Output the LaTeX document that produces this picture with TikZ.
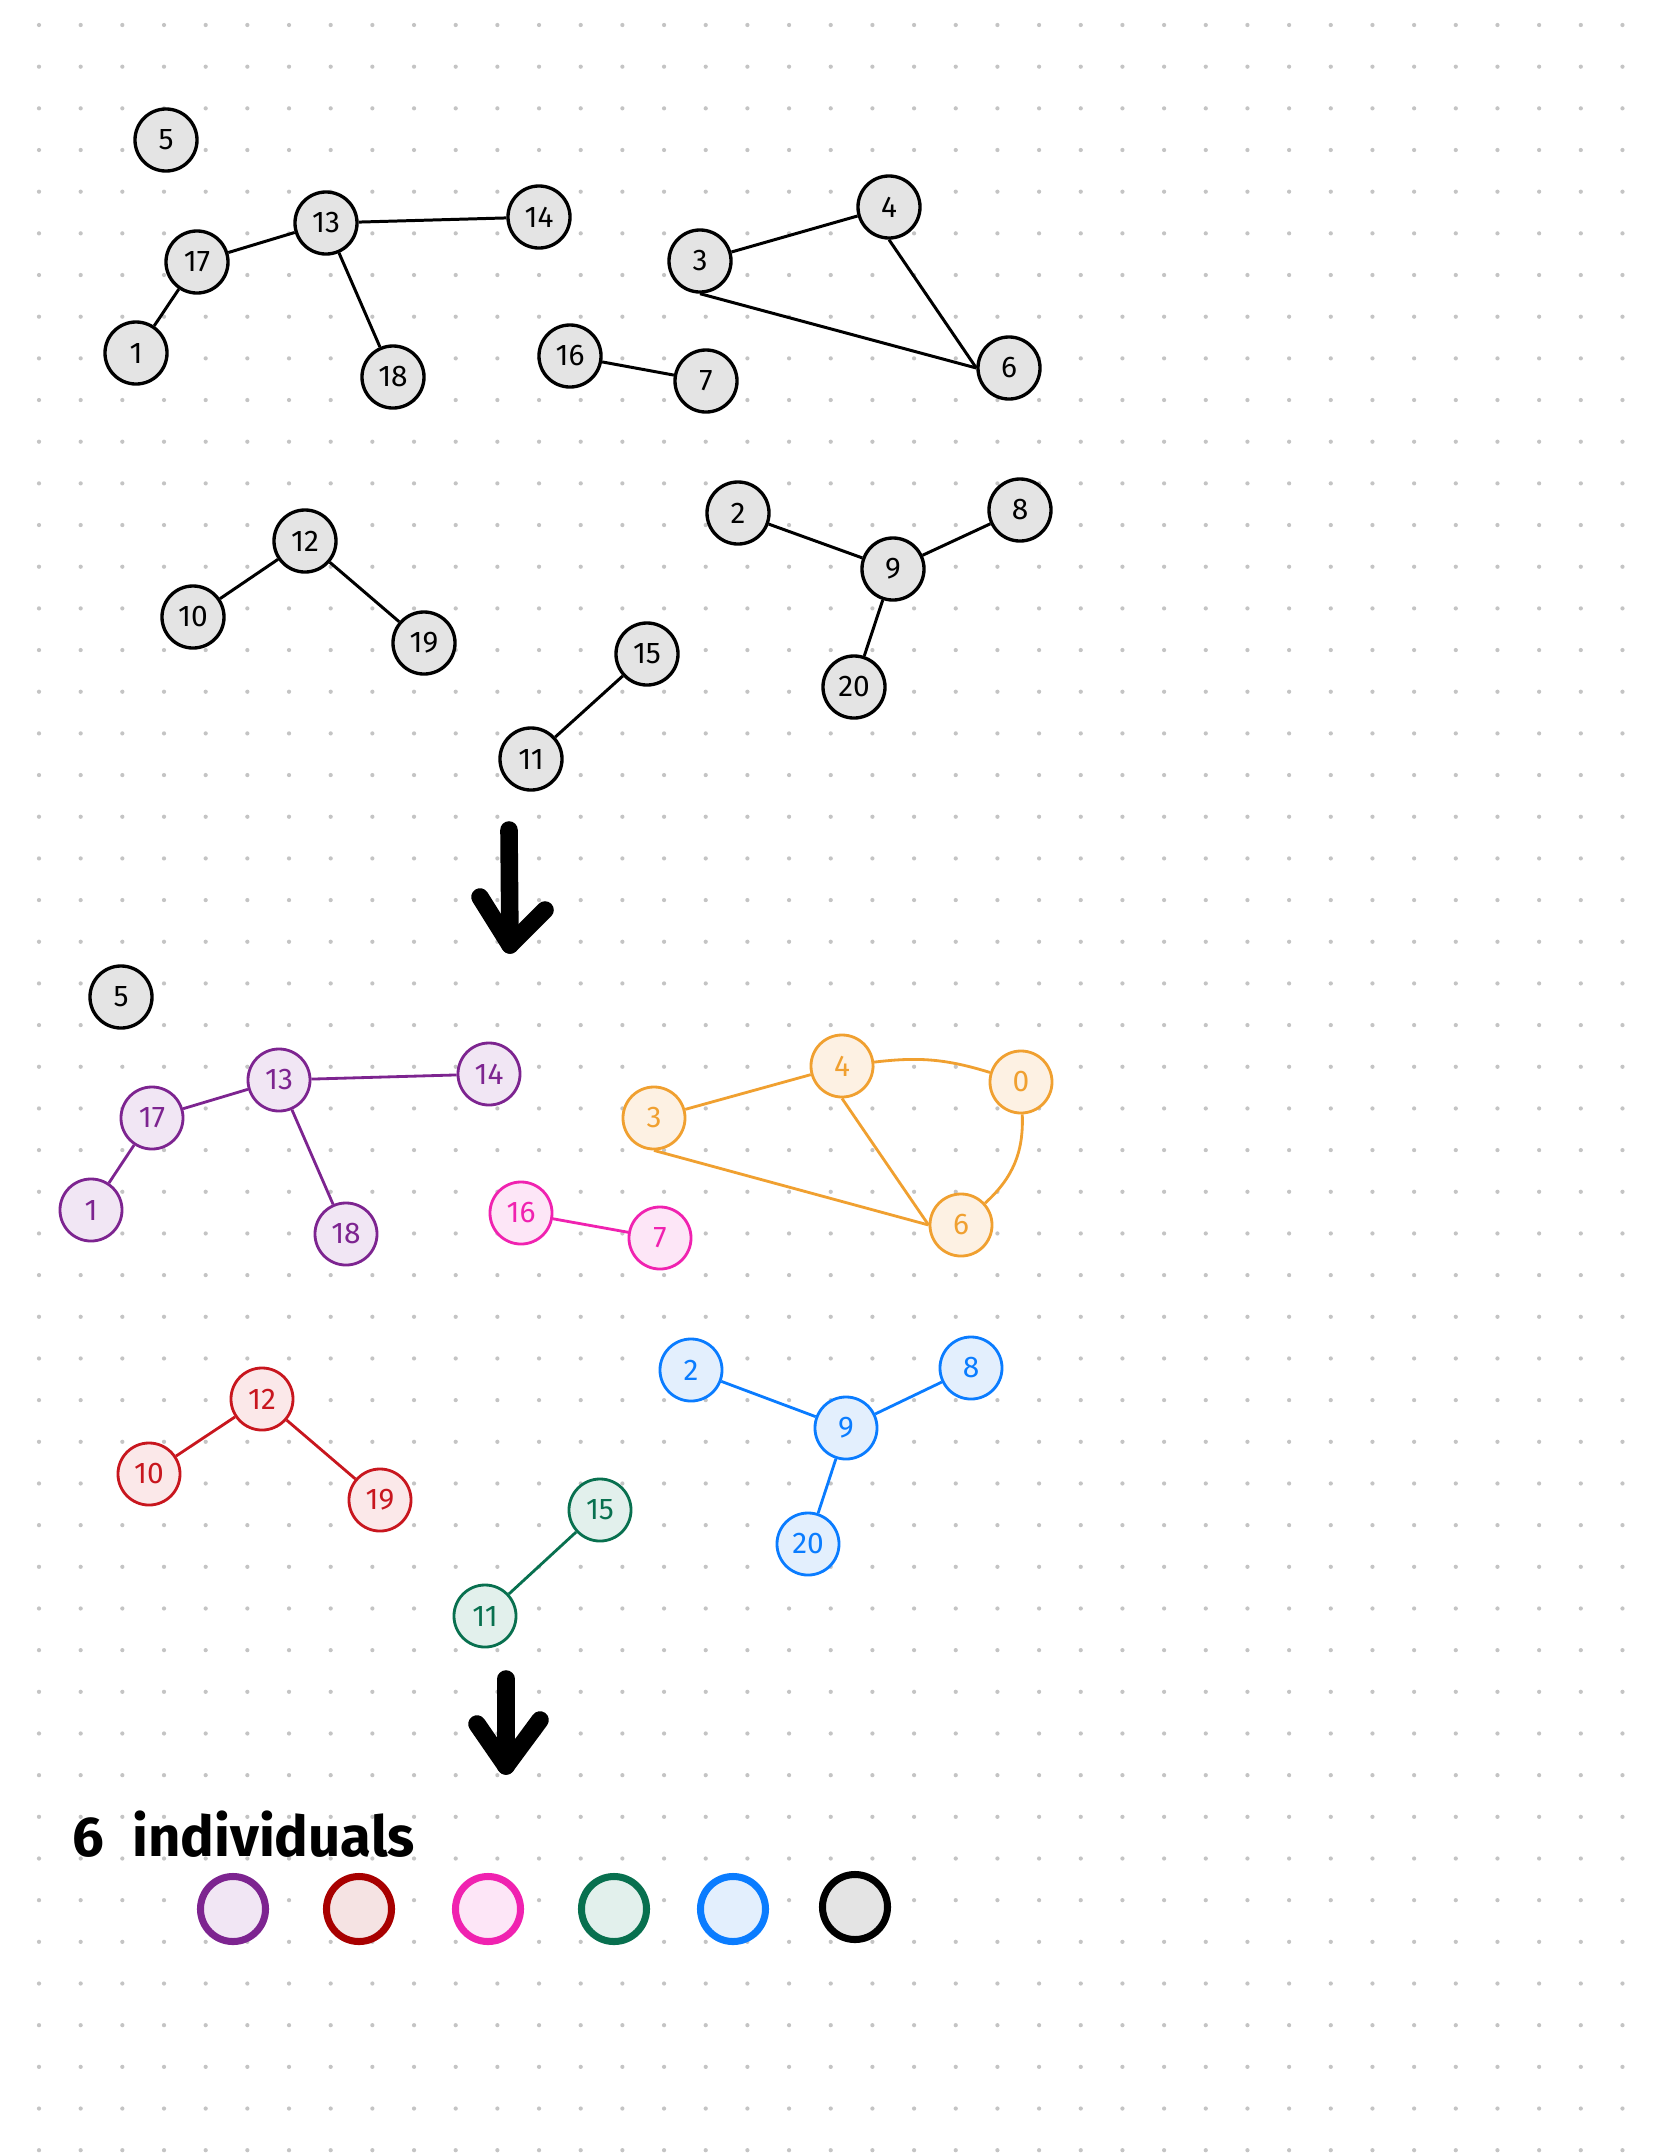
\documentclass[tikz,border=0pt]{standalone}
\usepackage{fontspec}
\setmainfont{Fira Sans}
\usetikzlibrary{arrows.meta,positioning}

\definecolor{dotgray}{HTML}{C4C4C4}
\definecolor{nodegray}{HTML}{E4E4E4}
\definecolor{purpline}{HTML}{7D2490}
\definecolor{purpfill}{HTML}{F1E6F4}
\definecolor{redline}{HTML}{C8161E}
\definecolor{redfill}{HTML}{FBE8E9}
\definecolor{darkred}{HTML}{A80000}
\definecolor{darkredfill}{HTML}{F5E3E3}
\definecolor{pinkline}{HTML}{F022B0}
\definecolor{pinkfill}{HTML}{FDE6F7}
\definecolor{greenline}{HTML}{08704F}
\definecolor{greenfill}{HTML}{E2F0EC}
\definecolor{blueline}{HTML}{0A7CFF}
\definecolor{bluefill}{HTML}{E3EFFD}
\definecolor{orangeline}{HTML}{F0A030}
\definecolor{orangefill}{HTML}{FDF1E3}

\begin{document}
\begin{tikzpicture}[
      x=0.01cm, y=-0.01cm,
      vtx/.style={
          circle, draw, inner sep=0pt,
          minimum size=0.62cm,
          font=\fontsize{8.5}{9}\selectfont
        },
      blk/.style={vtx, fill=nodegray, line width=0.95pt},
      link/.style={line width=0.85pt},
      clink/.style={line width=0.8pt},
      purp/.style={vtx, draw=purpline, fill=purpfill, text=purpline, line width=0.8pt},
      redn/.style={vtx, draw=redline, fill=redfill, text=redline, line width=0.8pt},
      pinkn/.style={vtx, draw=pinkline, fill=pinkfill, text=pinkline, line width=0.8pt},
      grn/.style={vtx, draw=greenline, fill=greenfill, text=greenline, line width=0.8pt},
      blu/.style={vtx, draw=blueline, fill=bluefill, text=blueline, line width=0.8pt},
      orng/.style={vtx, draw=orangeline, fill=orangefill, text=orangeline, line width=0.8pt},
      swatch/.style={circle, draw, line width=2pt, minimum size=0.65cm, inner sep=0pt},
      bigarrow/.style={line width=5pt, line cap=round, line join=round},
    ]
    \useasboundingbox (0,0) rectangle (1668,2154);
    \fill[white] (0,0) rectangle (1668,2154);
    % dotted paper
    \foreach \i in {0,...,38}
      \foreach \j in {0,...,51}
        \fill[dotgray] (39+41.67*\i, 25+41.67*\j) circle (0.6pt);

    % before
    \node[blk] (t5)  at (166,140) {5};
    \node[blk] (t13) at (326,223) {13};
    \node[blk] (t14) at (539,217) {14};
    \node[blk] (t17) at (197,262) {17};
    \node[blk] (t1)  at (136,353) {1};
    \node[blk] (t18) at (393,377) {18};
    \node[blk] (t3)  at (700,261) {3};
    \node[blk] (t4)  at (889,207) {4};
    \node[blk] (t6)  at (1009,368) {6};
    \node[blk] (t16) at (570,356) {16};
    \node[blk] (t7)  at (706,381) {7};
    \node[blk] (t12) at (305,541) {12};
    \node[blk] (t10) at (193,617) {10};
    \node[blk] (t19) at (424,643) {19};
    \node[blk] (t15) at (647,654) {15};
    \node[blk] (t11) at (531,759) {11};
    \node[blk] (t2)  at (738,513) {2};
    \node[blk] (t9)  at (893,569) {9};
    \node[blk] (t8)  at (1020,510) {8};
    \node[blk] (t20) at (854,687) {20};

    \draw[link] (t17) -- (t13);
    \draw[link] (t13) -- (t14);
    \draw[link] (t13) -- (t18);
    \draw[link] (t17) -- (t1);
    \draw[link] (t3) -- (t4);
    \draw[link] (t4.south) -- (t6.west);
    \draw[link] (t3.south) -- (t6.west);
    \draw[link] (t16) -- (t7);
    \draw[link] (t12) -- (t10);
    \draw[link] (t12) -- (t19);
    \draw[link] (t15) -- (t11);
    \draw[link] (t2) -- (t9);
    \draw[link] (t9) -- (t8);
    \draw[link] (t9) -- (t20);

    \coordinate (a1top) at (509,830);
    \coordinate (a1tip) at (510,945);
    \coordinate (a1l) at (480,897);
    \coordinate (a1r) at (545,910);
    \draw[bigarrow] (a1top) -- (a1tip);
    \draw[bigarrow] (a1l) -- (a1tip) -- (a1r);

    % after
    \node[blk]  (m5)  at (121,997) {5};
    \node[purp] (m13) at (279,1080) {13};
    \node[purp] (m14) at (489,1074) {14};
    \node[purp] (m17) at (152,1118) {17};
    \node[purp] (m1)  at (91,1210) {1};
    \node[purp] (m18) at (346,1234) {18};
    \node[pinkn] (m16) at (521,1213) {16};
    \node[pinkn] (m7)  at (660,1238) {7};
    \node[orng] (m3)  at (654,1118) {3};
    \node[orng] (m4)  at (842,1066) {4};
    \node[orng] (m0)  at (1021,1082) {0};
    \node[orng] (m6)  at (961,1225) {6};
    \node[redn] (m12) at (262,1399) {12};
    \node[redn] (m10) at (149,1474) {10};
    \node[redn] (m19) at (380,1500) {19};
    \node[grn]  (m15) at (600,1510) {15};
    \node[grn]  (m11) at (485,1616) {11};
    \node[blu]  (m2)  at (691,1370) {2};
    \node[blu]  (m9)  at (846,1428) {9};
    \node[blu]  (m8)  at (971,1368) {8};
    \node[blu]  (m20) at (808,1544) {20};

    \draw[clink, purpline] (m17) -- (m13);
    \draw[clink, purpline] (m13) -- (m14);
    \draw[clink, purpline] (m13) -- (m18);
    \draw[clink, purpline] (m17) -- (m1);
    \draw[clink, pinkline] (m16) -- (m7);
    \draw[clink, orangeline] (m3) -- (m4);
    \draw[clink, orangeline] (m4.south) -- (m6.west);
    \draw[clink, orangeline] (m3.south) -- (m6.west);
    \draw[clink, orangeline] (m4) to[bend left=12] (m0);
    \draw[clink, orangeline] (m0) to[bend left=25] (m6);
    \draw[clink, redline] (m12) -- (m10);
    \draw[clink, redline] (m12) -- (m19);
    \draw[clink, greenline] (m15) -- (m11);
    \draw[clink, blueline] (m2) -- (m9);
    \draw[clink, blueline] (m9) -- (m8);
    \draw[clink, blueline] (m9) -- (m20);

    \coordinate (a2top) at (506,1679);
    \coordinate (a2tip) at (506,1766);
    \coordinate (a2l) at (477,1724);
    \coordinate (a2r) at (540,1720);
    \draw[bigarrow] (a2top) -- (a2tip);
    \draw[bigarrow] (a2l) -- (a2tip) -- (a2r);

    % result
    \node[anchor=west, font=\bfseries\fontsize{16}{17}\selectfont] (caption) at (60,1834) {6\hspace{0.5em}individuals};
    \node[swatch, draw=purpline, fill=purpfill]  (s1) at (233,1909) {};
    \node[swatch, draw=darkred, fill=darkredfill] (s2) at (359,1909) {};
    \node[swatch, draw=pinkline, fill=pinkfill]  (s3) at (488,1909) {};
    \node[swatch, draw=greenline, fill=greenfill] (s4) at (614,1909) {};
    \node[swatch, draw=blueline, fill=bluefill]  (s5) at (733,1909) {};
    \node[swatch, draw=black, fill=nodegray]     (s6) at (855,1907) {};
  \end{tikzpicture}
\end{document}
